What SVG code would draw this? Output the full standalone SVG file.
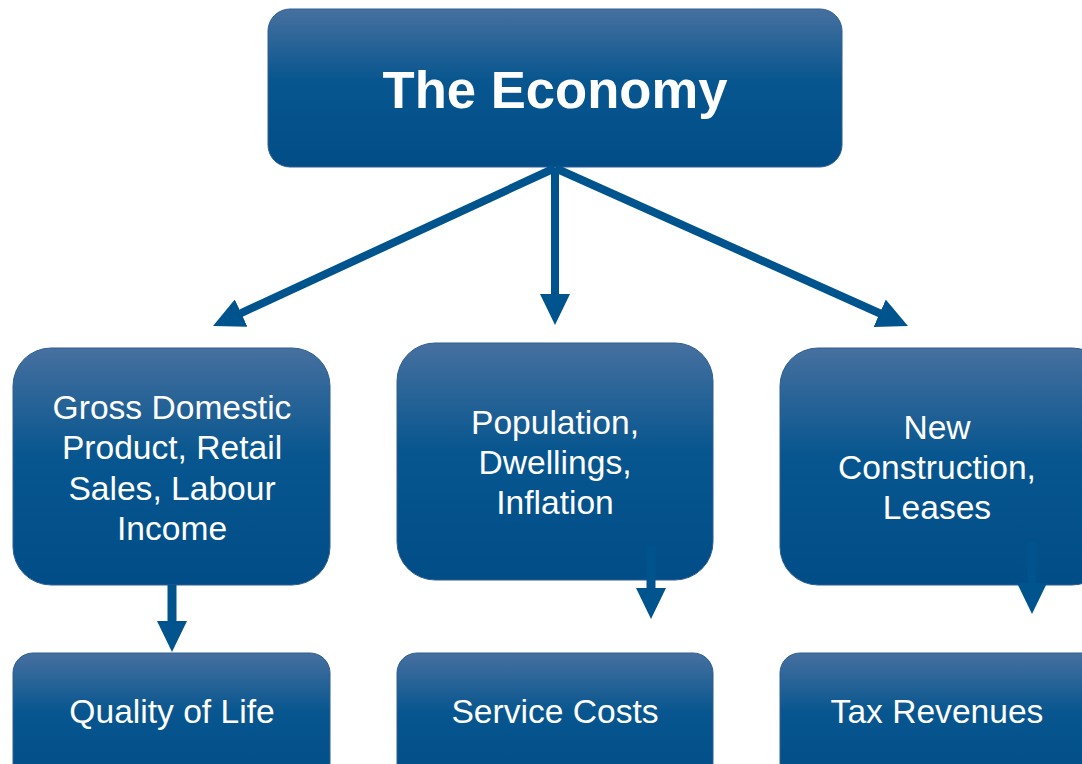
<svg xmlns="http://www.w3.org/2000/svg" width="1082" height="764" viewBox="0 0 1082 764">
<defs>
<linearGradient id="g" x1="0" y1="0" x2="0" y2="1">
<stop offset="0" stop-color="#46709f"/>
<stop offset="0.45" stop-color="#08568f"/>
<stop offset="1" stop-color="#004d88"/>
</linearGradient>
<marker id="ah" markerUnits="userSpaceOnUse" viewBox="0 0 32 30" refX="3" refY="15" markerWidth="32" markerHeight="30" orient="auto">
<path d="M0,0 L31,15 L0,30 z" fill="#00548e"/>
</marker>
<style>
.box{fill:url(#g);stroke:#2f5f90;stroke-width:1}
.t{font-family:"Liberation Sans",Arial,sans-serif;font-size:33.6px;fill:#fff;text-anchor:middle}
.title{font-family:"Liberation Sans",Arial,sans-serif;font-size:52.6px;font-weight:bold;fill:#fff;text-anchor:middle}
.c{stroke:#00548e;stroke-width:8;fill:none;marker-end:url(#ah)}
.s{stroke-width:9}
</style>
</defs>
<rect width="1082" height="764" fill="#fff"/>
<g id="economy">
<rect class="box" x="268" y="9" width="574" height="158" rx="22"/>
<text class="title" x="555" y="108">The Economy</text>
</g>
<g id="gdp">
<rect class="box" x="13" y="348" width="317" height="237" rx="38"/>
<text class="t" x="172" y="419">Gross Domestic</text>
<text class="t" x="172" y="459">Product, Retail</text>
<text class="t" x="172" y="500">Sales, Labour</text>
<text class="t" x="172" y="540">Income</text>
</g>
<g id="population">
<rect class="box" x="397" y="343" width="316" height="237" rx="38"/>
<text class="t" x="555" y="434">Population,</text>
<text class="t" x="555" y="474">Dwellings,</text>
<text class="t" x="555" y="514">Inflation</text>
</g>
<g id="construction">
<rect class="box" x="780" y="348" width="330" height="237" rx="38"/>
<text class="t" x="937" y="439">New</text>
<text class="t" x="937" y="479">Construction,</text>
<text class="t" x="937" y="519">Leases</text>
</g>
<g id="quality">
<rect class="box" x="13" y="653" width="317" height="130" rx="20"/>
<text class="t" x="172" y="723">Quality of Life</text>
</g>
<g id="service">
<rect class="box" x="397" y="653" width="316" height="130" rx="20"/>
<text class="t" x="555" y="723">Service Costs</text>
</g>
<g id="tax">
<rect class="box" x="780" y="653" width="330" height="130" rx="20"/>
<text class="t" x="937" y="723">Tax Revenues</text>
</g>
<g id="connectors">
<line class="c" x1="555" y1="168" x2="238.4" y2="314.3"/>
<line class="c" x1="555" y1="168" x2="555" y2="297"/>
<line class="c" x1="555" y1="168" x2="882.4" y2="314.5"/>
<line class="c s" x1="172" y1="585" x2="172" y2="624"/>
<line class="c s" x1="651" y1="547" x2="651" y2="591"/>
<line class="c s" x1="1032" y1="542" x2="1032" y2="586"/>
</g>
</svg>
